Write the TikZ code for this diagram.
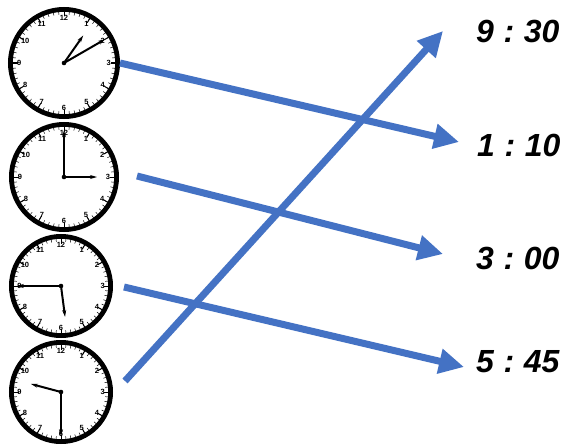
\documentclass[tikz,border=0pt]{standalone}
\usepackage{fontspec}
\setmainfont{Liberation Sans}
\usetikzlibrary{arrows.meta}
\definecolor{arrowblue}{RGB}{68,114,196}
\newcommand\gap{\hspace{0.3em}}
\tikzset{
  flow/.style={draw=arrowblue, line width=7pt, -{Triangle[length=25pt,width=24pt]}},
  timelabel/.style={anchor=base west, inner sep=0pt, font=\fontsize{32}{32}\selectfont\bfseries\itshape},
  clockrim/.style={circle, draw=black, line width=4.8pt, fill=white, inner sep=0pt},
  clockhand/.style={line width=2pt, -{Stealth[length=7pt,width=4pt]}},
  clocknum/.style={font=\fontsize{7.5}{7.5}\selectfont\bfseries, inner sep=0pt},
  pics/clockface/.style n args={3}{code={
    \node[clockrim, minimum size=2*#1-4.8pt] (-rim) at (0,0) {};
    \foreach \k in {0,...,59}{\draw[line width=0.5pt] (\k*6:#1-7.5) -- (\k*6:#1-4.5);}
    \foreach \k in {0,...,11}{\draw[line width=1pt] (\k*30:#1-9.5) -- (\k*30:#1-4.5);}
    \foreach \n in {1,...,12}{\node[clocknum] at ({90-\n*30}:#1*0.8) {\n};}
    \draw[clockhand] (0,0) -- (#2:#1*0.6);
    \draw[clockhand] (0,0) -- (#3:#1*0.85);
    \fill (0,0) circle[radius=2.3];
  }},
}
\begin{document}
\begin{tikzpicture}[x=1pt,y=1pt]
\path[use as bounding box, fill=white] (0,0) rectangle (567,-444);
% clocks
\pic (c1) at (64,-63) {clockface={56}{55}{30}};
\pic (c2) at (64,-177) {clockface={55}{0}{90}};
\pic (c3) at (61,-286) {clockface={52}{-82.5}{180}};
\pic (c4) at (61,-392) {clockface={52}{165}{-90}};
% labels
\node[timelabel] (t930) at (476,-42) {9\gap:\gap30};
\node[timelabel] (t110) at (477,-156) {1\gap:\gap10};
\node[timelabel] (t300) at (476,-269) {3\gap:\gap00};
\node[timelabel] (t545) at (476,-372) {5\gap:\gap45};
% arrow end points
\coordinate (s2) at (137,-176);
\coordinate (s3) at (124,-287);
\coordinate (s4) at (125,-381);
\coordinate (e110) at (459,-142);
\coordinate (e300) at (443,-254);
\coordinate (e545) at (464,-367);
\coordinate (e930) at (443,-31);
% arrows
\draw[flow] (c1-rim.east) -- (e110);
\draw[flow] (s2) -- (e300);
\draw[flow] (s3) -- (e545);
\draw[flow] (s4) -- (e930);
\end{tikzpicture}
\end{document}
